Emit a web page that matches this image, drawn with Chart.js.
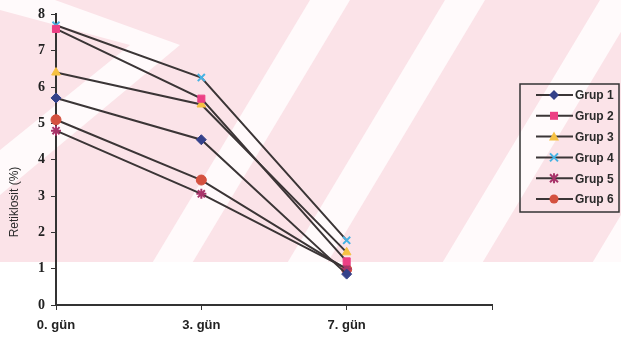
<!DOCTYPE html>
<html lang="tr">

<head>
    <meta charset="UTF-8">
    <title>Retiklosit</title>
    <script src="https://cdn.jsdelivr.net/npm/chart.js"></script>
    <style>
        body {
            margin: 0;
            padding: 0;
            background: #fff;
        }

        .box {
            width: 621px;
            height: 339px;
        }
    </style>
</head>

<body>
    <div class="box">
        <canvas id="myChart" width="621" height="339"></canvas>
    </div>

    <script>
        // data
        const days = ['0. gün', '3. gün', '7. gün', ''];
        const groupNames = ['Grup 1', 'Grup 2', 'Grup 3', 'Grup 4', 'Grup 5', 'Grup 6'];
        const grup1 = [5.7, 4.55, 0.85];
        const grup2 = [7.6, 5.68, 1.2];
        const grup3 = [6.4, 5.52, 1.45];
        const grup4 = [7.7, 6.26, 1.78];
        const grup5 = [4.8, 3.06, 1.0];
        const grup6 = [5.1, 3.44, 0.98];
        const yTicks = [0, 1, 2, 3, 4, 5, 6, 7, 8];

        const markerColors = ['#34418a', '#ec3f84', '#f6c143', '#46b2e3', '#a8346a', '#d4513f'];
        const markerStyles = ['rectRot', 'rect', 'triangle', 'crossRot', 'star', 'circle'];
        const lineColor = '#3b3536';

        const allValues = [grup1, grup2, grup3, grup4, grup5, grup6];

        // faint pink watermark in the background of the scan
        const watermark = {
            id: 'watermark',
            beforeDraw(chart) {
                const c = chart.ctx;
                c.save();
                c.fillStyle = '#ffffff';
                c.fillRect(0, 0, chart.width, chart.height);
                c.beginPath();
                c.rect(0, 0, chart.width, 262);
                c.clip();
                c.fillStyle = '#fbe3e8';
                c.fillRect(0, 0, chart.width, 262);
                c.fillStyle = '#fffafb';
                const bands = [[310, 350], [445, 485], [600, 640], [750, 790]];
                bands.forEach(b => {
                    c.beginPath();
                    c.moveTo(b[0], 0);
                    c.lineTo(b[1], 0);
                    c.lineTo(b[1] - 0.6 * 262, 262);
                    c.lineTo(b[0] - 0.6 * 262, 262);
                    c.closePath();
                    c.fill();
                });
                // chevron at the left
                c.beginPath();
                c.moveTo(0, 0);
                c.lineTo(55, 0);
                c.lineTo(180, 45);
                c.lineTo(0, 195);
                c.lineTo(0, 150);
                c.lineTo(130, 45);
                c.lineTo(0, 10);
                c.closePath();
                c.fill();
                c.restore();
            }
        };

        function drawMarker(c, style, x, y, color) {
            c.save();
            c.fillStyle = color;
            c.strokeStyle = color;
            c.lineWidth = 2;
            c.beginPath();
            if (style === 'rectRot') {
                c.moveTo(x, y - 5); c.lineTo(x + 5, y); c.lineTo(x, y + 5); c.lineTo(x - 5, y);
                c.closePath(); c.fill();
            } else if (style === 'rect') {
                c.fillRect(x - 4, y - 4, 8, 8);
            } else if (style === 'triangle') {
                c.moveTo(x, y - 5); c.lineTo(x + 5, y + 4); c.lineTo(x - 5, y + 4);
                c.closePath(); c.fill();
            } else if (style === 'crossRot') {
                c.moveTo(x - 4, y - 4); c.lineTo(x + 4, y + 4);
                c.moveTo(x + 4, y - 4); c.lineTo(x - 4, y + 4); c.stroke();
            } else if (style === 'star') {
                c.moveTo(x - 4, y - 4); c.lineTo(x + 4, y + 4);
                c.moveTo(x + 4, y - 4); c.lineTo(x - 4, y + 4);
                c.moveTo(x, y - 5); c.lineTo(x, y + 5); c.stroke();
            } else {
                c.arc(x, y, 4.5, 0, Math.PI * 2); c.fill();
            }
            c.restore();
        }

        // boxed legend on the right and rotated axis title
        const extras = {
            id: 'extras',
            afterDraw(chart) {
                const c = chart.ctx;
                c.save();
                c.strokeStyle = '#333';
                c.lineWidth = 1.5;
                c.strokeRect(520, 84, 99, 128);
                c.font = 'bold 12px "Liberation Sans", Arial, sans-serif';
                c.textBaseline = 'middle';
                groupNames.forEach((name, i) => {
                    const y = 95 + i * 20.8;
                    c.strokeStyle = lineColor;
                    c.lineWidth = 2;
                    c.beginPath();
                    c.moveTo(536, y);
                    c.lineTo(573, y);
                    c.stroke();
                    drawMarker(c, markerStyles[i], 554, y, markerColors[i]);
                    c.fillStyle = '#2a2a2a';
                    c.fillText(name, 575, y + 1);
                });
                c.translate(15, 202);
                c.rotate(-Math.PI / 2);
                c.textAlign = 'center';
                c.font = '12px "Liberation Sans", Arial, sans-serif';
                c.fillStyle = '#2a2a2a';
                c.fillText('Retiklosit (%)', 0, 0);
                c.restore();
            }
        };

        const ctx = document.getElementById('myChart').getContext('2d');

        const chart = new Chart(ctx, {
            type: 'line',
            data: {
                labels: days,
                datasets: allValues.map((vals, i) => ({
                    label: groupNames[i],
                    data: vals,
                    borderColor: lineColor,
                    borderWidth: 2,
                    pointStyle: markerStyles[i],
                    pointBackgroundColor: markerColors[i],
                    pointBorderColor: markerColors[i],
                    pointBorderWidth: (markerStyles[i] === 'crossRot' || markerStyles[i] === 'star') ? 2 : 1,
                    pointRadius: 5,
                    tension: 0
                }))
            },
            options: {
                responsive: false,
                animation: false,
                layout: {
                    padding: { top: 12, right: 129, left: 0, bottom: 0 }
                },
                scales: {
                    x: {
                        offset: false,
                        grid: {
                            drawOnChartArea: false,
                            drawTicks: true,
                            tickLength: 5,
                            color: '#333'
                        },
                        border: { color: '#333', width: 2 },
                        ticks: {
                            padding: 8,
                            color: '#222',
                            maxRotation: 0,
                            font: { family: '"Liberation Sans", Arial, sans-serif', size: 13, weight: 'bold' }
                        },
                        afterFit(scale) { scale.height = 34; }
                    },
                    y: {
                        min: 0,
                        max: 8,
                        afterBuildTicks(scale) { scale.ticks = yTicks.map(v => ({ value: v })); },
                        grid: {
                            drawOnChartArea: false,
                            drawTicks: true,
                            tickLength: 5,
                            color: '#333'
                        },
                        border: { color: '#333', width: 2 },
                        ticks: {
                            padding: 6,
                            color: '#222',
                            font: { family: '"Liberation Serif", "Times New Roman", serif', size: 14, weight: 'bold' }
                        },
                        afterFit(scale) { scale.width = 56; }
                    }
                },
                plugins: {
                    legend: { display: false },
                    tooltip: { enabled: false }
                }
            },
            plugins: [watermark, extras]
        });
    </script>

</body>

</html>
